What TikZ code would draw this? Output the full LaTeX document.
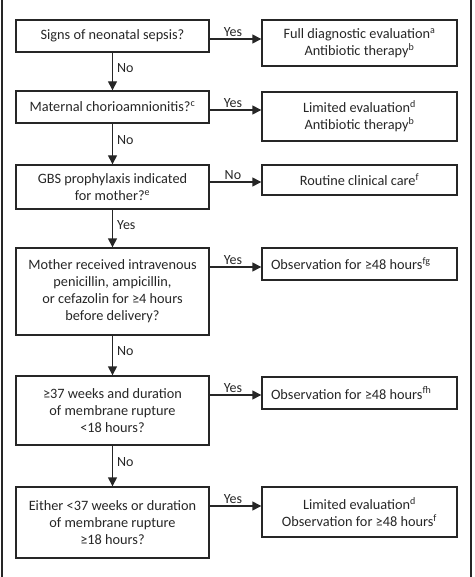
\documentclass[tikz,border=0pt]{standalone}
\usepackage{fontspec}
\setmainfont{Carlito}
\usetikzlibrary{arrows.meta}
\begin{document}
\begin{tikzpicture}[x=1pt,y=-1pt,
  every node/.style={font=\fontsize{14.3}{17}\selectfont, text=black!85},
  lbox/.style={draw=black!85, line width=1.4pt, minimum width=193pt, align=center, inner sep=2pt},
  rbox/.style={draw=black!85, line width=1.4pt, minimum width=195pt, align=center, inner sep=2pt},
  arr/.style={draw=black!85, line width=1.4pt, -{Triangle[width=9pt,length=9pt]}},
  lab/.style={font=\fontsize{14}{15}\selectfont, inner sep=1pt},
  sup/.style={}
]
\useasboundingbox (0,0) rectangle (474,577);
\draw[black!85, line width=2pt] (1.5,0) -- (1.5,577);
\draw[black!85, line width=2pt] (470.5,0) -- (470.5,577);

\node[lbox, minimum height=32pt] (b1) at (112.5,36) {Signs of neonatal sepsis?};
\node[lbox, minimum height=32pt] (b2) at (112.5,107) {Maternal chorioamnionitis?\textsuperscript{c}};
\node[lbox, minimum height=44pt] (b3) at (112.5,187) {GBS prophylaxis indicated\\for mother?\textsuperscript{e}};
\node[lbox, minimum height=87pt] (b4) at (112.5,291.5) {Mother received intravenous\\penicillin, ampicillin,\\or cefazolin for ≥4 hours\\before delivery?};
\node[lbox, minimum height=69pt] (b5) at (112.5,410.5) {≥37 weeks and duration\\of membrane rupture\\<18 hours?};
\node[lbox, minimum height=71pt] (b6) at (112.5,522.5) {Either <37 weeks or duration\\of membrane rupture\\≥18 hours?};

\node[rbox, minimum height=46pt] (r1) at (359.5,43) {Full diagnostic evaluation\textsuperscript{a}\\Antibiotic therapy\textsuperscript{b}};
\node[rbox, minimum height=49pt] (r2) at (359.5,116.5) {Limited evaluation\textsuperscript{d}\\Antibiotic therapy\textsuperscript{b}};
\node[rbox, minimum height=30pt] (r3) at (359.5,180) {Routine clinical care\textsuperscript{f}};
\node[rbox, minimum height=32pt] (r4) at (359.5,264) {\makebox[177pt][l]{Observation for ≥48 hours\textsuperscript{fg}}};
\node[rbox, minimum height=32pt] (r5) at (359.5,393) {\makebox[177pt][l]{Observation for ≥48 hours\textsuperscript{fh}}};
\node[rbox, minimum height=50pt] (r6) at (359.5,512) {Limited evaluation\textsuperscript{d}\\Observation for ≥48 hours\textsuperscript{f}};

\foreach \a/\b/\t in {b1/b2/No, b2/b3/No, b3/b4/Yes, b4/b5/No, b5/b6/No}
  \draw[arr] (\a.south) -- node[lab, right, pos=0.4, xshift=3pt] {\t} (\b.north);

\coordinate (y1) at (0,39);
\coordinate (y2) at (0,110);
\coordinate (y3) at (0,182);
\coordinate (y4) at (0,267);
\coordinate (y5) at (0,395);
\coordinate (y6) at (0,506);
\foreach \i/\t in {1/Yes, 2/Yes, 3/No, 4/Yes, 5/Yes, 6/Yes}
  \draw[arr] (b\i.east |- y\i) -- node[lab, above, pos=0.45, yshift=1pt] {\t} (r\i.west |- y\i);
\end{tikzpicture}
\end{document}
